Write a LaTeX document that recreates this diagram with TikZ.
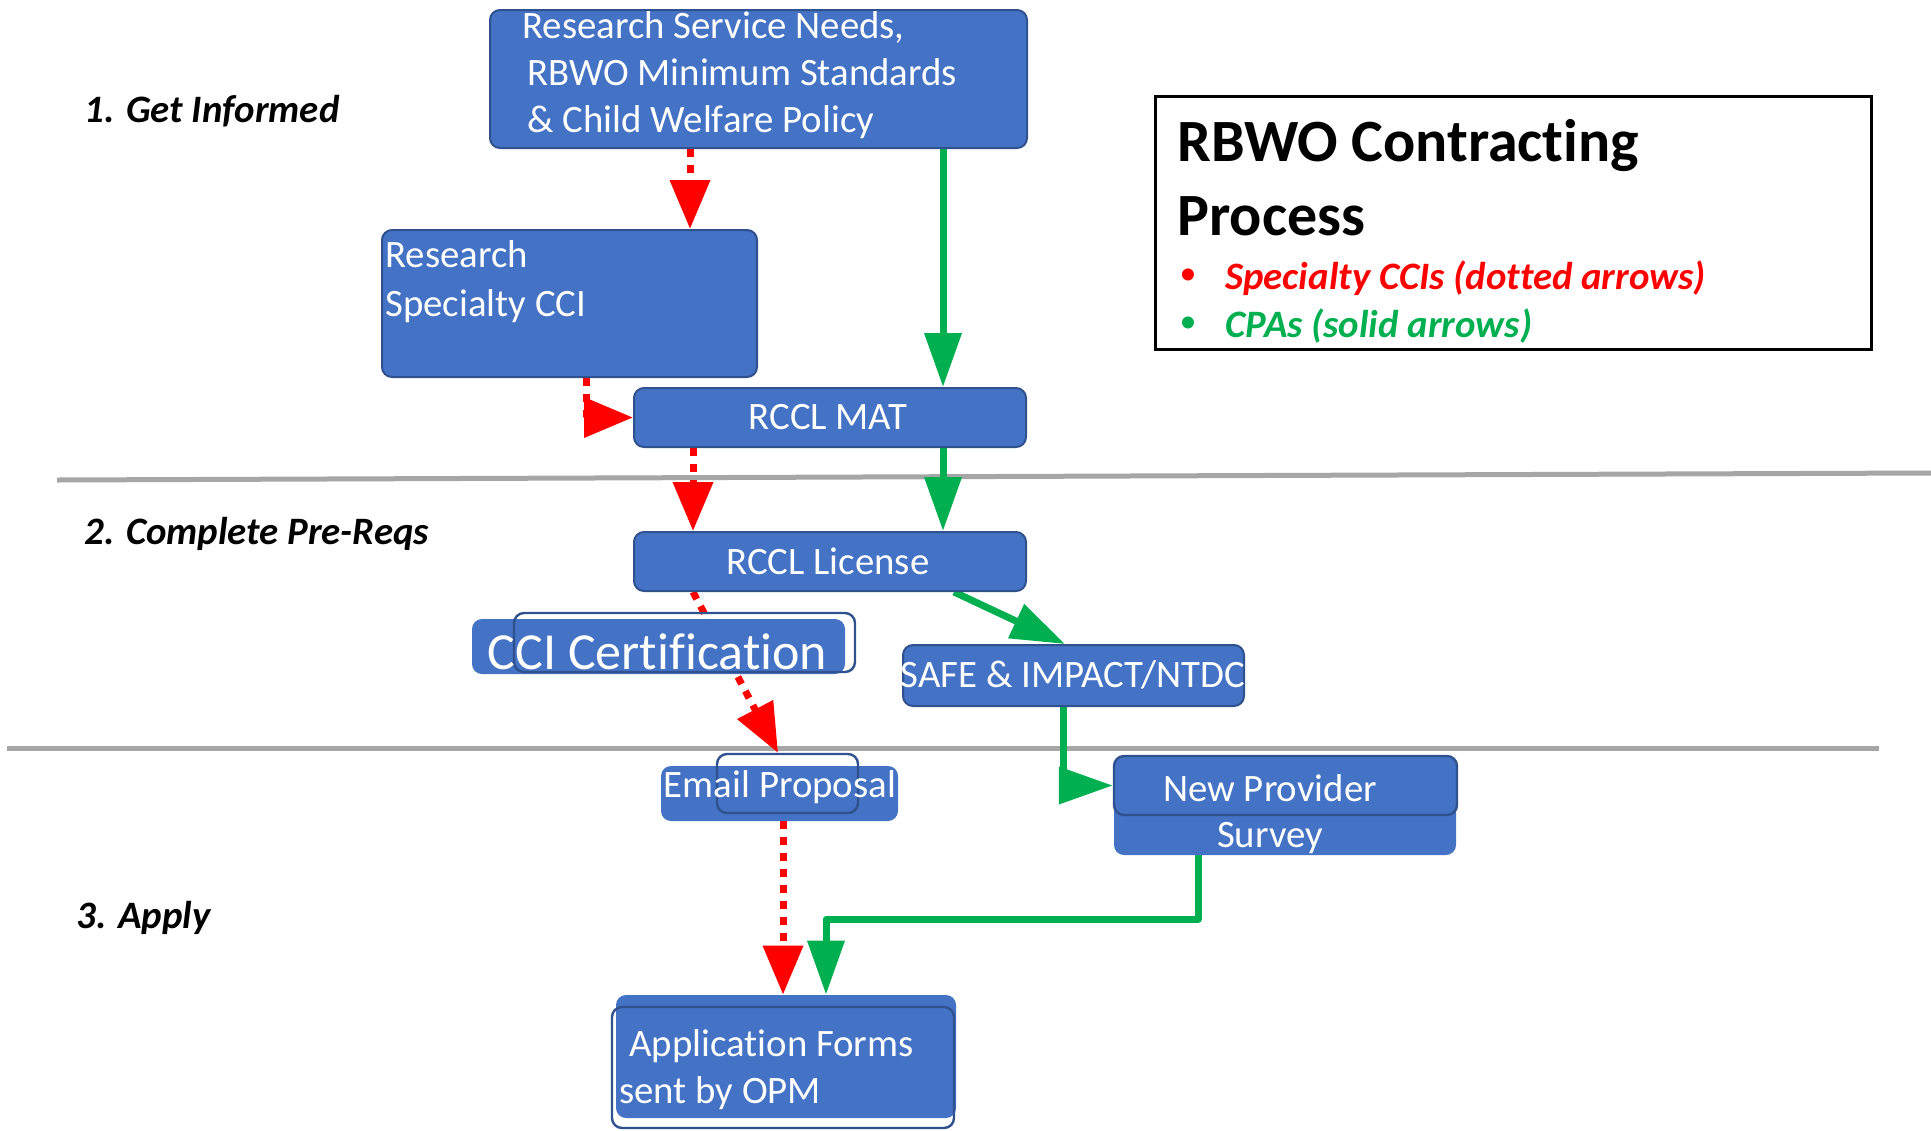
\documentclass[tikz,border=0pt]{standalone}
\usepackage{fontspec}
\setmainfont{Carlito}[Ligatures={NoCommon,NoRequired,NoContextual}, RawFeature={-liga;-clig;-dlig}]
\usetikzlibrary{arrows.meta,calc}
\definecolor{boxblue}{HTML}{4472C4}
\definecolor{boxedge}{HTML}{2F528F}
\definecolor{arrred}{HTML}{FF0000}
\definecolor{arrgreen}{HTML}{00B050}
\definecolor{sepgray}{HTML}{A6A6A6}
\pgfdeclarelayer{bg}
\pgfsetlayers{bg,main}
\begin{document}
\begin{tikzpicture}[x=0.5pt,y=-0.5pt,
  fillbox/.style={rectangle, rounded corners=5pt, fill=boxblue, draw=boxedge, line width=1pt, inner sep=0pt},
  plainfill/.style={rectangle, rounded corners=5pt, fill=boxblue, inner sep=0pt},
  outlinebox/.style={rectangle, rounded corners=5pt, draw=boxedge, line width=1.2pt, inner sep=0pt},
  boxtext/.style={text=white, font=\fontsize{19.4pt}{23.5pt}\selectfont, inner sep=0pt, align=left},
  stagetext/.style={font=\fontsize{19.4pt}{23.5pt}\selectfont\bfseries\itshape, anchor=west, inner sep=0pt},
  legitem/.style={font=\fontsize{19.4pt}{23.5pt}\selectfont\bfseries\itshape, anchor=west, inner sep=0pt},
  legbullet/.style={font=\fontsize{17pt}{20pt}\selectfont, inner sep=0pt},
  legtitle/.style={font=\fontsize{30pt}{37pt}\selectfont\bfseries, anchor=base west, inner sep=0pt},
  redarrow/.style={draw=arrred, line width=3.5pt, dash pattern=on 4pt off 4pt, -{Triangle[width=19.5pt,length=24.5pt]}},
  greenarrow/.style={draw=arrgreen, line width=3.5pt, line join=round, -{Triangle[width=18pt,length=27pt]}},
  sepline/.style={draw=sepgray, line width=2.5pt},
]
\useasboundingbox (0,0) rectangle (1931,1130);

% column coordinates
\coordinate (xa) at (690,0);
\coordinate (xg) at (943,0);
\coordinate (xb) at (586,0);
\coordinate (xc) at (693,0);
\coordinate (xd) at (778,0);
\coordinate (xe) at (954,0);
\coordinate (xf) at (1065,0);
\coordinate (xf2) at (1063,0);
\coordinate (xh) at (783,0);
\coordinate (xi) at (1198,0);
\coordinate (bend) at (826,919);

% boxes
\node[fillbox, minimum width=268.5pt, minimum height=69pt] (needs) at (758.5,79) {};
\node[boxtext, anchor=west] (needstext) at (527,75) {\hspace*{-2.5pt}Research Service Needs,\\RBWO Minimum Standards\\\& Child Welfare Policy};

\node[fillbox, minimum width=187.5pt, minimum height=73.5pt] (research) at (569.5,303.5) {};
\node[boxtext, anchor=west, font=\fontsize{19.4pt}{24.5pt}\selectfont] (researchtext) at (385,282) {Research\\Specialty CCI};

\node[fillbox, minimum width=196pt, minimum height=29.5pt] (mat) at (830,417.5) {};
\node[boxtext] (mattext) at (828,417.5) {RCCL MAT};

\node[fillbox, minimum width=196pt, minimum height=29.5pt] (license) at (830,561.5) {};
\node[boxtext] (licensetext) at (828,561.5) {RCCL License};

\node[plainfill, minimum width=186.5pt, minimum height=27.5pt] (ccif) at (658.5,646.5) {};
\node[outlinebox, minimum width=170.5pt, minimum height=29.5pt] (ccio) at (684.5,642.5) {};
\node[boxtext, font=\fontsize{26pt}{30pt}\selectfont] (ccitext) at (657.5,652) {CCI Certification};

\node[fillbox, minimum width=170.5pt, minimum height=30.5pt] (safe) at (1073.5,675.5) {};
\node[boxtext] (safetext) at (1073,675) {SAFE \& IMPACT/NTDC};

\node[plainfill, minimum width=118.5pt, minimum height=27.5pt] (emailf) at (779.5,793.5) {};
\node[outlinebox, minimum width=70.5pt, minimum height=29.5pt] (emailo) at (787.5,783.5) {};
\node[boxtext] (emailtext) at (780,787.5) {Email Proposal};

\node[plainfill, minimum width=171pt, minimum height=49.5pt] (surveyf) at (1285,805.5) {};
\node[outlinebox, minimum width=171.5pt, minimum height=29.5pt] (surveyo) at (1285.5,785.5) {};
\node[boxtext] (surveytext1) at (1270,788.5) {New Provider};
\node[boxtext] (surveytext2) at (1270,838.5) {Survey};

\node[plainfill, minimum width=170pt, minimum height=61.5pt] (appf) at (786,1056.5) {};
\node[outlinebox, minimum width=171pt, minimum height=60.5pt] (appo) at (783,1067.5) {};
\node[boxtext, anchor=west] (apptext1) at (629,1046) {Application Forms};
\node[boxtext, anchor=west] (apptext2) at (619,1093) {sent by OPM};

% stage labels
\node[stagetext] (stage1) at (84,111) {1. Get Informed};
\node[stagetext] (stage2) at (84,534) {2. Complete Pre-Reqs};
\node[stagetext] (stage3) at (76,918) {3. Apply};

% legend
\node[draw=black, line width=1.5pt, minimum width=358pt, minimum height=126.5pt, inner sep=0pt] (legend) at (1513,222.5) {};
\node[legtitle] (legtitle1) at (1177,161) {RBWO Contracting};
\node[legtitle] (legtitle2) at (1177,235) {Process};
\node[legbullet, text=arrred] (bullet1) at (1188,277) {•};
\node[legitem, text=arrred] (legitem1) at (1225,278) {Specialty CCIs (dotted arrows)};
\node[legbullet, text=arrgreen] (bullet2) at (1188,325) {•};
\node[legitem, text=arrgreen] (legitem2) at (1225,326) {CPAs (solid arrows)};

\begin{pgfonlayer}{bg}
\draw[sepline] (57,480) -- (1931,473);
\draw[sepline] (7,748) -- (1879,748);
\draw[redarrow] (needs.south -| xa) -- (research.north -| xa);
\draw[greenarrow] (needs.south -| xg) -- (mat.north -| xg);
\draw[redarrow] (research.south -| xb) |- (mat.west);
\draw[redarrow] (mat.south -| xc) -- (license.north -| xc);
\draw[greenarrow] (mat.south -| xg) -- (license.north -| xg);
\draw[redarrow] (license.south -| xc) -- (emailo.north -| xd);
\draw[greenarrow] (license.south -| xe) -- (safe.north -| xf);
\draw[greenarrow] (safe.south -| xf2) |- (surveyo.west);
\draw[redarrow] (emailf.south -| xh) -- (appf.north -| xh);
\draw[greenarrow] (surveyf.south -| xi) |- (bend) -- (bend |- appf.north);
\end{pgfonlayer}
\end{tikzpicture}
\end{document}
